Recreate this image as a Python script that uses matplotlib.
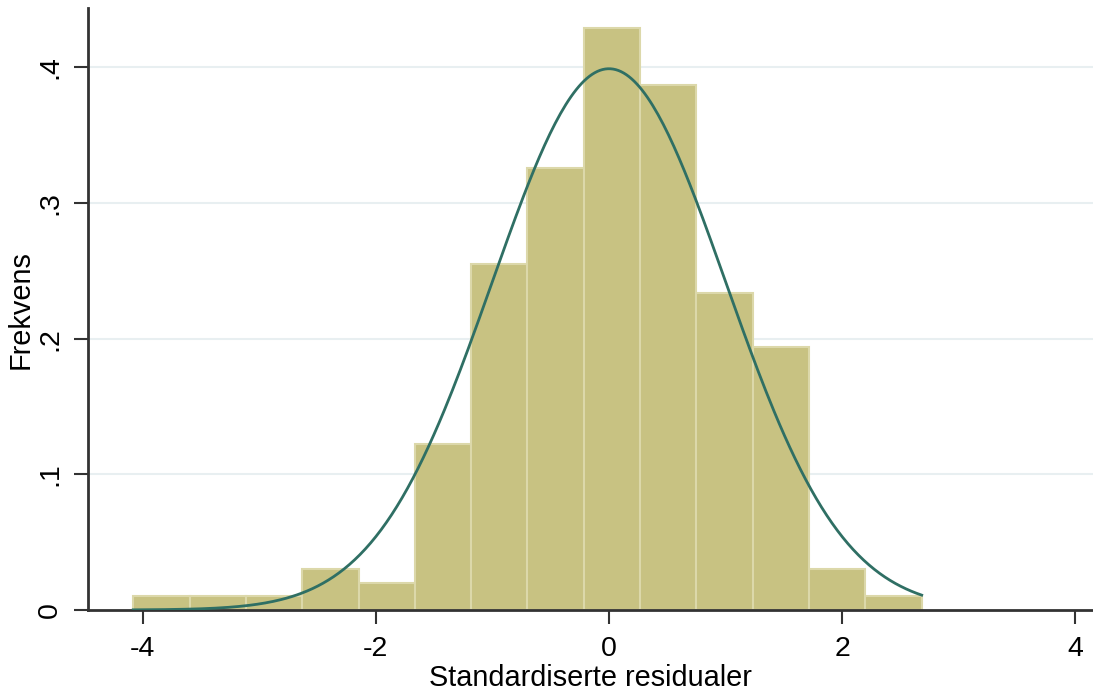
import numpy as np
import matplotlib.pyplot as plt

plt.rcParams['font.family'] = ['Liberation Sans', 'DejaVu Sans']

# histogram bins (density)
bin_edges = [-4.08, -3.597, -3.114, -2.631, -2.148, -1.665, -1.182, -0.699,
             -0.216, 0.267, 0.750, 1.233, 1.716, 2.199, 2.682]
densities = [0.010, 0.010, 0.010, 0.030, 0.020, 0.122, 0.255, 0.326,
             0.429, 0.387, 0.234, 0.194, 0.030, 0.010]

# normal density overlay
mu = 0.0
sigma = 1.0

yticks = [0, 0.1, 0.2, 0.3, 0.4]
ytick_labels = ["0", ".1", ".2", ".3", ".4"]
xticks = [-4, -2, 0, 2, 4]
xtick_labels = ["-4", "-2", "0", "2", "4"]

fig = plt.figure(figsize=(10.93, 6.90), dpi=100)
ax = fig.add_axes([0.0805, 0.116, 0.9195, 0.872])

for t in yticks[1:]:
    ax.axhline(t, color='#e8eff1', linewidth=1.5, zorder=0)

lefts = np.array(bin_edges[:-1])
widths = np.diff(bin_edges)
ax.bar(lefts, densities, width=widths, align='edge', color='#c8c282',
       edgecolor='#dcd8aa', linewidth=1.5, zorder=2)

xs = np.linspace(bin_edges[0], bin_edges[-1], 300)
pdf = np.exp(-0.5 * ((xs - mu) / sigma) ** 2) / (sigma * np.sqrt(2 * np.pi))
ax.plot(xs, pdf, color='#2f6f64', linewidth=2, zorder=3)

ax.set_xlim(-4.468, 4.151)
ax.set_ylim(0, 0.4435)

ax.set_xticks(xticks)
ax.set_xticklabels(xtick_labels)
ax.set_yticks(yticks)
ax.set_yticklabels(ytick_labels, rotation=90, va='center')

ax.tick_params(axis='both', labelsize=20.5, length=10, width=1.5, color='#333333')
ax.tick_params(axis='x', pad=9)
ax.tick_params(axis='y', pad=8)

ax.spines['top'].set_visible(False)
ax.spines['right'].set_visible(False)
for s in ['left', 'bottom']:
    ax.spines[s].set_linewidth(2)
    ax.spines[s].set_color('#333333')

ax.set_xlabel("Standardiserte residualer", fontsize=20.8, labelpad=1)
ax.set_ylabel("Frekvens", fontsize=20.8, labelpad=2)

fig.savefig("out.png", dpi=100)
